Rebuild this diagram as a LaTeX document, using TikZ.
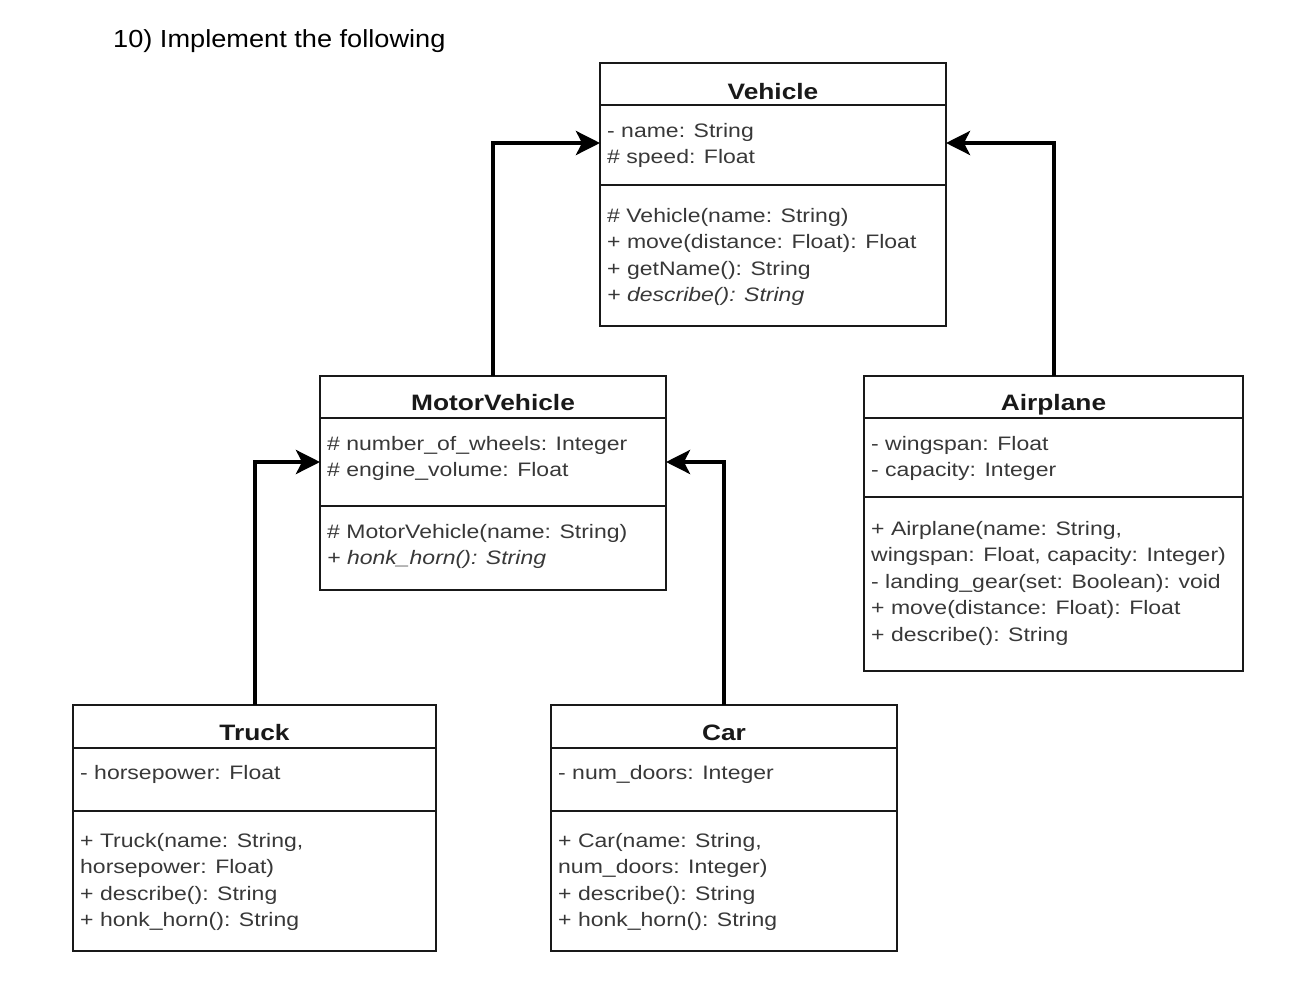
\documentclass[tikz,border=0pt]{standalone}
\usepackage{fontspec}
\setmainfont{Liberation Sans}
\newfontfamily\bodyfont[FakeStretch=1.18]{Liberation Sans}
\newfontfamily\headfont[FakeStretch=1.1]{Liberation Sans}
\usetikzlibrary{arrows.meta}
\tikzset{
  comp/.style={draw=black!90, line width=1.3pt, rectangle, inner sep=0pt, outer sep=0pt, anchor=north west},
  txt/.style={font=\bodyfont\fontsize{19.5}{24}\selectfont, text=black!78, inner sep=0pt, anchor=base west},
  ttl/.style={font=\bodyfont\bfseries\fontsize{22.3}{26}\selectfont, text=black!90, inner sep=0pt, anchor=base},
  inh/.style={draw=black, line width=4pt, -{Stealth[length=24pt, width=24pt, inset=6pt]}},
}
\newcommand{\umllines}[4]{%
  \foreach \t [count=\i] in {#4} {\node[txt] (#1\i) at (#2, {#3+(\i-1)*26.5}) {\t};}%
}
\begin{document}
\begin{tikzpicture}[x=1pt,y=-1pt]
\useasboundingbox (0,0) rectangle (1291,983);

\node[anchor=base west, inner sep=0pt, font=\headfont\fontsize{24.7}{30}\selectfont] (hdr) at (113,47) {10) Implement the following};

% Vehicle
\node[comp, minimum width=346pt, minimum height=42pt] (veh-t) at (600,63) {};
\node[comp, minimum width=346pt, minimum height=80pt] (veh-a) at (600,105) {};
\node[comp, minimum width=346pt, minimum height=141pt] (veh-m) at (600,185) {};
\node[ttl] (veh-n) at (773,99) {Vehicle};
\umllines{veh-al}{607}{137}{- name: String, \# speed: Float}
\umllines{veh-ml}{607}{222}{\# Vehicle(name: String), + move(distance: Float): Float, + getName(): String, {\itshape + describe(): String}}

% MotorVehicle
\node[comp, minimum width=346pt, minimum height=42pt] (mv-t) at (320,376) {};
\node[comp, minimum width=346pt, minimum height=88pt] (mv-a) at (320,418) {};
\node[comp, minimum width=346pt, minimum height=84pt] (mv-m) at (320,506) {};
\node[ttl] (mv-n) at (493,410.5) {MotorVehicle};
\umllines{mv-al}{327}{450}{\# number\_of\_wheels: Integer, \# engine\_volume: Float}
\umllines{mv-ml}{327}{538}{\# MotorVehicle(name: String), {\itshape + honk\_horn(): String}}

% Airplane
\node[comp, minimum width=379pt, minimum height=42pt] (ap-t) at (864,376) {};
\node[comp, minimum width=379pt, minimum height=79pt] (ap-a) at (864,418) {};
\node[comp, minimum width=379pt, minimum height=174pt] (ap-m) at (864,497) {};
\node[ttl] (ap-n) at (1053.5,410.5) {Airplane};
\umllines{ap-al}{871}{450}{- wingspan: Float, - capacity: Integer}
\umllines{ap-ml}{871}{535}{{+ Airplane(name: String,}, {wingspan: Float, capacity: Integer)}, - landing\_gear(set: Boolean): void, + move(distance: Float): Float, + describe(): String}

% Truck
\node[comp, minimum width=363pt, minimum height=43pt] (tr-t) at (73,705) {};
\node[comp, minimum width=363pt, minimum height=63pt] (tr-a) at (73,748) {};
\node[comp, minimum width=363pt, minimum height=140pt] (tr-m) at (73,811) {};
\node[ttl] (tr-n) at (254.5,740.5) {Truck};
\umllines{tr-al}{80}{779}{- horsepower: Float}
\umllines{tr-ml}{80}{847}{{+ Truck(name: String,}, horsepower: Float), + describe(): String, + honk\_horn(): String}

% Car
\node[comp, minimum width=346pt, minimum height=43pt] (car-t) at (551,705) {};
\node[comp, minimum width=346pt, minimum height=63pt] (car-a) at (551,748) {};
\node[comp, minimum width=346pt, minimum height=140pt] (car-m) at (551,811) {};
\node[ttl] (car-n) at (724,740.5) {Car};
\umllines{car-al}{558}{779}{- num\_doors: Integer}
\umllines{car-ml}{558}{847}{{+ Car(name: String,}, num\_doors: Integer), + describe(): String, + honk\_horn(): String}

% inheritance
\draw[inh] (mv-t.north) |- ([yshift=2pt]veh-a.west);
\draw[inh] (ap-t.north) |- ([yshift=2pt]veh-a.east);
\draw[inh] (tr-t.north) |- (mv-a.west);
\draw[inh] (car-t.north) |- (mv-a.east);
\end{tikzpicture}
\end{document}
